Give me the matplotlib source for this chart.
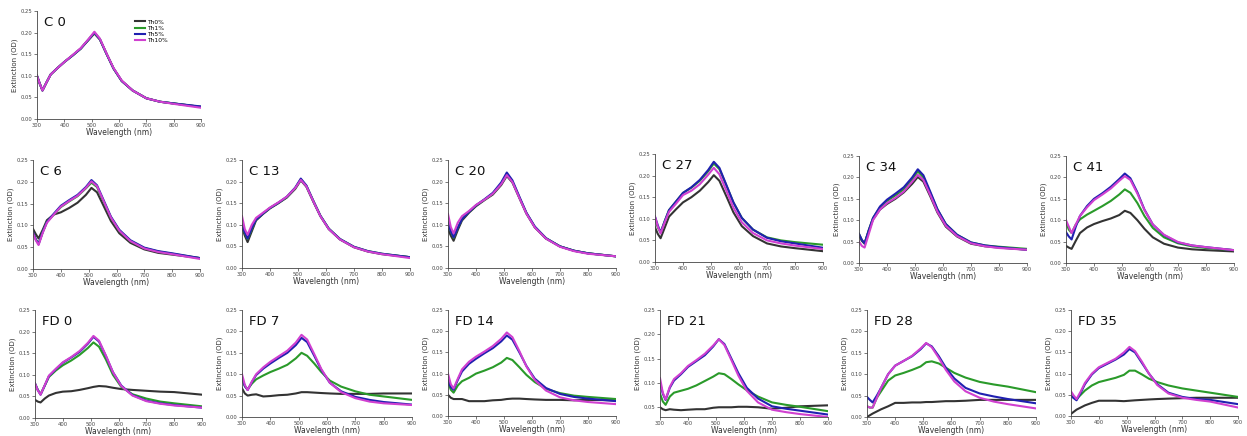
import matplotlib
matplotlib.use("Agg")
import matplotlib.pyplot as plt

# wavelength grid (nm) shared by every spectrum
wl = [300, 310, 320, 335, 350, 375, 400, 430, 460, 490, 510, 530, 555, 580, 610, 650, 700, 750, 800, 900]

series = ["Th0%", "Th1%", "Th5%", "Th10%"]
colors = ["#333333", "#2a9a2a", "#2020b0", "#d040d0"]

# each panel: [Th0%, Th1%, Th5%, Th10%]
c0 = [
    [.100, .082, .066, .085, .103, .118, .132, .147, .163, .184, .198, .184, .150, .117, .088, .066, .048, .040, .036, .028],
    [.100, .082, .066, .085, .103, .118, .132, .147, .163, .185, .199, .185, .150, .117, .088, .066, .048, .040, .036, .028],
    [.100, .082, .066, .085, .103, .118, .132, .147, .163, .185, .200, .185, .150, .117, .088, .066, .048, .040, .036, .029],
    [.100, .082, .066, .085, .103, .118, .132, .148, .164, .186, .202, .186, .151, .118, .089, .066, .048, .040, .035, .026],
]
c6 = [
    [.092, .080, .070, .090, .112, .125, .130, .140, .152, .170, .186, .176, .143, .110, .082, .060, .045, .037, .033, .025],
    [.085, .068, .058, .085, .108, .125, .142, .155, .167, .185, .198, .188, .153, .118, .088, .064, .048, .040, .035, .025],
    [.085, .068, .057, .085, .108, .127, .145, .158, .170, .188, .204, .192, .156, .120, .090, .066, .049, .041, .036, .025],
    [.082, .066, .055, .083, .106, .125, .143, .156, .168, .186, .201, .190, .154, .118, .088, .064, .047, .039, .034, .023],
]
c13 = [
    [.095, .075, .060, .085, .110, .125, .138, .150, .163, .183, .203, .188, .153, .120, .090, .066, .048, .038, .032, .025],
    [.100, .080, .067, .090, .112, .126, .139, .151, .164, .185, .205, .190, .155, .121, .091, .067, .049, .039, .033, .025],
    [.100, .082, .068, .092, .112, .126, .139, .151, .165, .186, .207, .191, .155, .121, .091, .067, .049, .039, .033, .025],
    [.120, .090, .077, .100, .116, .128, .140, .152, .165, .185, .204, .189, .154, .120, .090, .066, .048, .038, .032, .023],
]
c20 = [
    [.090, .075, .063, .088, .110, .128, .143, .157, .170, .192, .213, .198, .162, .126, .094, .068, .050, .040, .034, .027],
    [.105, .085, .070, .093, .113, .130, .145, .158, .172, .195, .217, .200, .163, .127, .095, .069, .050, .040, .034, .027],
    [.105, .085, .071, .093, .113, .130, .145, .159, .174, .198, .221, .203, .165, .128, .096, .069, .050, .040, .034, .027],
    [.125, .095, .080, .105, .120, .132, .146, .158, .172, .194, .215, .199, .162, .126, .094, .068, .049, .039, .033, .027],
]
c27 = [
    [.080, .065, .055, .080, .105, .122, .138, .150, .165, .185, .201, .188, .152, .115, .083, .060, .043, .036, .032, .025],
    [.100, .080, .068, .095, .120, .140, .160, .172, .188, .210, .228, .215, .177, .138, .102, .075, .057, .050, .046, .040],
    [.105, .085, .068, .095, .120, .140, .160, .173, .190, .213, .232, .218, .178, .138, .102, .075, .056, .048, .043, .033],
    [.105, .082, .066, .092, .116, .135, .155, .165, .180, .202, .218, .203, .165, .126, .092, .067, .050, .043, .038, .030],
]
c34 = [
    [.065, .052, .045, .075, .102, .125, .138, .150, .165, .185, .201, .190, .155, .118, .085, .062, .045, .039, .036, .031],
    [.068, .054, .046, .077, .105, .130, .145, .158, .172, .195, .214, .200, .163, .125, .091, .066, .048, .041, .038, .033],
    [.068, .054, .046, .077, .105, .132, .148, .162, .177, .200, .219, .205, .166, .126, .091, .066, .048, .041, .037, .031],
    [.050, .040, .036, .068, .100, .125, .140, .152, .167, .190, .206, .194, .158, .120, .087, .063, .046, .039, .035, .031],
]
c41 = [
    [.040, .036, .033, .052, .070, .083, .091, .098, .104, .112, .122, .117, .100, .080, .060, .045, .036, .032, .030, .027],
    [.095, .078, .070, .090, .102, .113, .122, .133, .145, .160, .172, .164, .140, .110, .082, .060, .046, .039, .035, .030],
    [.072, .062, .055, .085, .110, .133, .150, .163, .178, .196, .209, .198, .165, .125, .090, .065, .048, .041, .037, .030],
    [.100, .085, .070, .090, .110, .130, .147, .160, .174, .192, .203, .194, .162, .124, .090, .066, .049, .041, .037, .030],
]
fd0 = [
    [.042, .038, .036, .045, .052, .058, .061, .062, .065, .069, .072, .074, .073, .070, .067, .065, .063, .061, .060, .054],
    [.080, .065, .055, .075, .095, .110, .122, .133, .146, .162, .175, .165, .135, .100, .072, .055, .045, .038, .034, .027],
    [.080, .065, .054, .075, .097, .113, .128, .140, .153, .172, .188, .177, .143, .106, .075, .053, .040, .034, .030, .024],
    [.080, .064, .054, .076, .098, .114, .129, .141, .155, .174, .190, .179, .144, .106, .074, .052, .039, .033, .029, .024],
]
fd7 = [
    [.067, .055, .050, .052, .053, .048, .049, .051, .052, .055, .058, .058, .057, .056, .055, .054, .054, .054, .055, .055],
    [.090, .072, .065, .078, .088, .097, .105, .113, .122, .137, .150, .143, .125, .105, .085, .071, .060, .052, .048, .040],
    [.092, .072, .063, .082, .098, .113, .125, .138, .150, .168, .185, .175, .143, .110, .080, .060, .047, .040, .035, .029],
    [.100, .075, .063, .083, .100, .116, .129, .142, .155, .174, .192, .181, .147, .112, .080, .058, .044, .036, .032, .028],
]
fd14 = [
    [.050, .043, .040, .040, .040, .035, .035, .035, .037, .038, .040, .041, .041, .040, .039, .038, .038, .037, .038, .037],
    [.080, .062, .055, .072, .082, .090, .100, .107, .115, .126, .137, .132, .115, .097, .080, .064, .054, .048, .045, .040],
    [.085, .068, .062, .085, .105, .123, .135, .148, .160, .176, .190, .180, .150, .118, .088, .066, .052, .045, .041, .035],
    [.100, .075, .065, .088, .110, .128, .140, .152, .165, .182, .197, .186, .153, .117, .085, .060, .044, .037, .033, .028],
]
fd21 = [
    [.050, .046, .044, .046, .045, .044, .045, .046, .046, .049, .050, .050, .050, .051, .051, .050, .047, .049, .052, .054],
    [.078, .062, .055, .072, .080, .084, .088, .095, .104, .113, .120, .118, .108, .097, .085, .072, .060, .055, .051, .042],
    [.100, .078, .065, .090, .105, .118, .133, .145, .157, .175, .190, .180, .150, .120, .090, .068, .052, .047, .043, .035],
    [.110, .080, .066, .092, .108, .120, .135, .147, .160, .177, .190, .178, .147, .115, .084, .060, .045, .040, .036, .030],
]
fd28 = [
    [.000, .004, .008, .013, .018, .025, .033, .033, .034, .034, .035, .035, .036, .037, .037, .038, .040, .040, .040, .040],
    [.025, .022, .022, .045, .060, .085, .097, .103, .110, .118, .128, .130, .125, .115, .103, .092, .082, .076, .071, .058],
    [.047, .040, .034, .050, .068, .100, .120, .131, .142, .158, .172, .165, .142, .115, .090, .068, .055, .048, .042, .032],
    [.025, .022, .022, .045, .068, .100, .120, .131, .143, .160, .173, .163, .138, .110, .083, .060, .045, .036, .030, .020],
]
fd35 = [
    [.005, .010, .015, .020, .025, .031, .036, .036, .036, .035, .036, .037, .038, .039, .040, .041, .042, .043, .043, .043],
    [.048, .043, .040, .050, .060, .072, .080, .085, .090, .097, .107, .107, .098, .088, .080, .072, .065, .060, .055, .045],
    [.048, .042, .037, .055, .075, .098, .113, .123, .133, .145, .158, .150, .125, .100, .075, .055, .045, .040, .038, .028],
    [.058, .048, .040, .058, .078, .100, .115, .125, .135, .150, .163, .153, .128, .100, .073, .053, .043, .038, .034, .020],
]

titles = ["C 0", "C 6", "C 13", "C 20", "C 27", "C 34", "C 41",
          "FD 0", "FD 7", "FD 14", "FD 21", "FD 28", "FD 35"]
panels = [c0, c6, c13, c20, c27, c34, c41, fd0, fd7, fd14, fd21, fd28, fd35]

W, H = 1247, 436
# pixel boxes of each plot area: x0, x1, ytop, ybottom
boxes = [(37, 201, 11, 119),
         (33, 200, 160, 269), (242, 410, 160, 268), (448, 616, 160, 268),
         (655, 823, 154, 262), (859, 1027, 156, 263), (1066, 1234, 156, 263),
         (35, 202, 310, 418), (242, 412, 310, 417), (448, 616, 310, 416),
         (660, 828, 310, 417), (867, 1036, 310, 417), (1071, 1238, 310, 416)]

fig = plt.figure(figsize=(W / 100, H / 100), dpi=100)

for i, (title, data, (x0, x1, yt, yb)) in enumerate(zip(titles, panels, boxes)):
    ax = fig.add_axes([x0 / W, 1 - yb / H, (x1 - x0) / W, (yb - yt) / H])
    for vals, c, lab in zip(data, colors, series):
        ax.plot(wl, vals, color=c, lw=1.5, label=lab, solid_joinstyle="round")
    ax.set_xlim(300, 900)
    ax.set_ylim(0.03 if title == "FD 21" else 0, 0.25)
    ax.set_xticks(range(300, 901, 100))
    ax.set_yticks([0.05, 0.10, 0.15, 0.20, 0.25] if title == "FD 21"
                  else [0, 0.05, 0.10, 0.15, 0.20, 0.25])
    ax.yaxis.set_major_formatter(matplotlib.ticker.FormatStrFormatter("%.2f"))
    for s in ["top", "right"]:
        ax.spines[s].set_visible(False)
    for s in ["left", "bottom"]:
        ax.spines[s].set_linewidth(0.6)
        ax.spines[s].set_color("#444444")
    ax.tick_params(length=2, width=0.5, labelsize=3.8, pad=1.2, colors="#444444")
    ax.set_xlabel("Wavelength (nm)", fontsize=5.5, labelpad=0, color="#333333")
    ax.set_ylabel("Extinction (OD)", fontsize=5, labelpad=2, color="#333333")
    ax.text(0.04, 0.89, title, transform=ax.transAxes, fontsize=9.5,
            va="center", ha="left", color="#111111")
    if i == 0:
        ax.legend(loc="upper left", bbox_to_anchor=(0.58, 0.95), frameon=False,
                  fontsize=4.3, handlelength=1.6, labelspacing=0.15,
                  handletextpad=0.4, borderpad=0)

fig.savefig("out.png", dpi=100)
